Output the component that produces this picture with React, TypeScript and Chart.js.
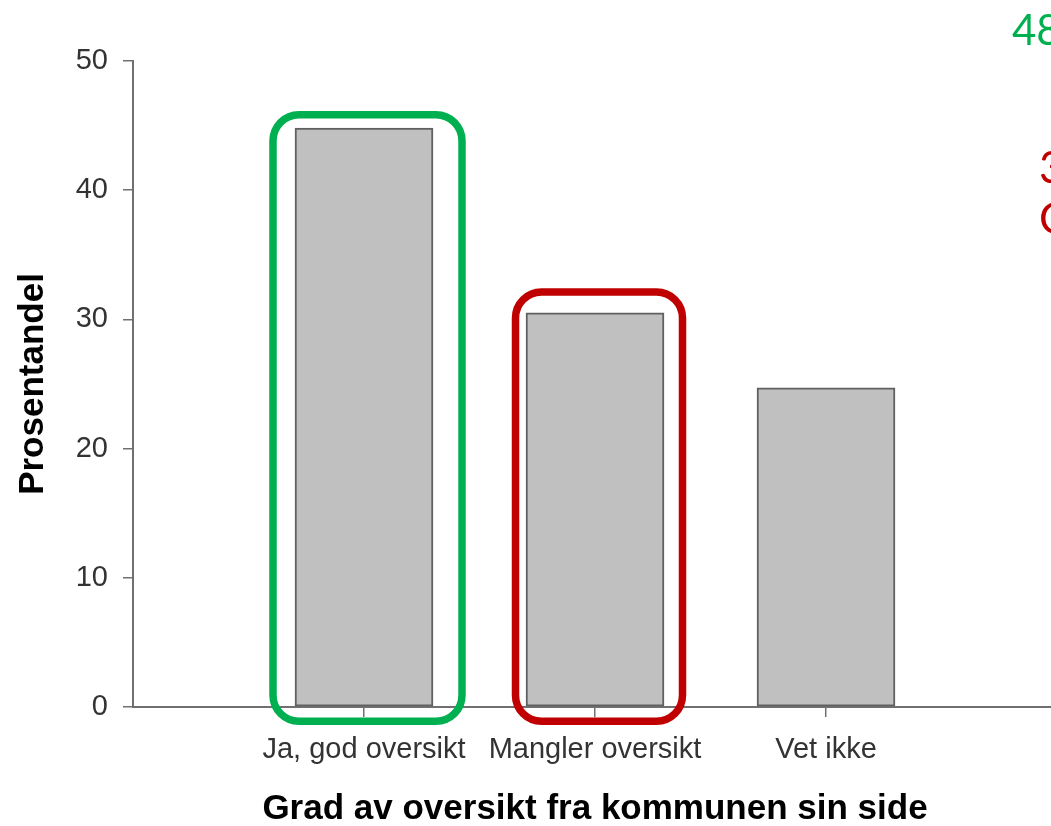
import React, { useEffect, useRef } from 'react';
import { Chart, registerables } from 'chart.js';

Chart.register(...registerables);

// ---- Data ----
const categories = ['Ja, god oversikt', 'Mangler oversikt', 'Vet ikke'];
const categoryPositions = [1, 2, 3];
const values = [44.8, 30.5, 24.7];
const yMin = 0;
const yMax = 50;
const yStep = 10;
const xTitle = 'Grad av oversikt fra kommunen sin side';
const yTitle = 'Prosentandel';

// highlight boxes around bars (index into categories)
const highlights = [
  { index: 0, color: '#00b050', padL: 22, padR: 29, padT: 13.5, padB: 15 },
  { index: 1, color: '#c00000', padL: 10.5, padR: 18.5, padT: 21, padB: 15 },
];

const FONT = '"Liberation Sans", Arial, Helvetica, sans-serif';

const highlightPlugin = {
  id: 'highlightBoxes',
  afterDatasetsDraw(chart: any) {
    const meta = chart.getDatasetMeta(0);
    const ctx = chart.ctx;
    ctx.save();
    highlights.forEach((h) => {
      const bar = meta.data[h.index];
      if (!bar) return;
      const p = bar.getProps(['x', 'y', 'base', 'width'], true);
      const left = p.x - p.width / 2 - h.padL;
      const right = p.x + p.width / 2 + h.padR;
      const top = p.y - h.padT;
      const bottom = p.base + h.padB;
      ctx.beginPath();
      ctx.lineWidth = 7.5;
      ctx.strokeStyle = h.color;
      if (ctx.roundRect) {
        ctx.roundRect(left, top, right - left, bottom - top, 26);
      } else {
        ctx.rect(left, top, right - left, bottom - top);
      }
      ctx.stroke();
    });
    ctx.restore();
  },
};

function BarChart() {
  const ref = useRef<HTMLCanvasElement | null>(null);
  useEffect(() => {
    if (!ref.current) return;
    const chart = new Chart(ref.current, {
      type: 'bar',
      data: {
        datasets: [
          {
            data: categoryPositions.map((x, i) => ({ x, y: values[i] })),
            backgroundColor: '#c0c0c0',
            borderColor: '#606060',
            borderWidth: 2,
            borderSkipped: false,
            barThickness: 138,
          },
        ],
      },
      options: {
        responsive: false,
        animation: false,
        events: [],
        layout: { padding: { top: 61, right: 23, left: 0, bottom: 0 } },
        plugins: {
          legend: { display: false },
          tooltip: { enabled: false },
        },
        scales: {
          x: {
            type: 'linear',
            min: 0,
            max: 4,
            offset: false,
            afterBuildTicks: (scale: any) => {
              scale.ticks = categoryPositions.map((v) => ({ value: v }));
            },
            afterFit: (scale: any) => {
              scale.height = 119;
            },
            ticks: {
              autoSkip: false,
              maxRotation: 0,
              minRotation: 0,
              padding: 16,
              color: '#333333',
              font: { family: FONT, size: 29 },
              callback: (v: any) => {
                const i = categoryPositions.indexOf(Number(v));
                return i >= 0 ? categories[i] : '';
              },
            },
            grid: {
              display: true,
              drawOnChartArea: false,
              drawTicks: true,
              tickLength: 10,
              offset: false,
              color: '#707070',
              lineWidth: 1.5,
            },
            border: { display: true, color: '#707070', width: 2 },
            title: {
              display: true,
              text: xTitle,
              color: '#000000',
              font: { family: FONT, size: 35, weight: 'bold', lineHeight: 1 },
              padding: { top: 0, bottom: -1 },
            },
          },
          y: {
            type: 'linear',
            min: yMin,
            max: yMax,
            afterFit: (scale: any) => {
              scale.width = 133;
            },
            ticks: {
              stepSize: yStep,
              padding: 15,
              color: '#333333',
              font: { family: FONT, size: 29 },
            },
            grid: {
              display: true,
              drawOnChartArea: false,
              drawTicks: true,
              tickLength: 10,
              color: '#707070',
              lineWidth: 1.5,
            },
            border: { display: true, color: '#707070', width: 2 },
            title: {
              display: true,
              text: yTitle,
              color: '#000000',
              font: { family: FONT, size: 35, weight: 'bold', lineHeight: 1.2 },
              padding: { top: 12, bottom: 0 },
            },
          },
        },
      },
      plugins: [highlightPlugin],
    } as any);
    return () => chart.destroy();
  }, []);
  return <canvas ref={ref} width={1080} height={826} style={{ display: 'block', width: 1080, height: 826 }} />;
}

export default function App() {
  useEffect(() => {
    document.body.style.margin = '0';
  }, []);
  const noteFont = 'Lato, "Open Sans", sans-serif';
  return (
    <div style={{ position: 'relative', width: 1051, height: 826, overflow: 'hidden', background: '#ffffff' }}>
      <BarChart />
      <span style={{ position: 'absolute', left: 1012, top: 8, fontFamily: noteFont, fontSize: 42, lineHeight: '42px', color: '#00b050', whiteSpace: 'nowrap' }}>48</span>
      <span style={{ position: 'absolute', left: 1039, top: 144, fontFamily: noteFont, fontSize: 44, lineHeight: '44px', color: '#c00000', whiteSpace: 'nowrap' }}>3</span>
      <span style={{ position: 'absolute', left: 1039, top: 195, fontFamily: noteFont, fontSize: 44, lineHeight: '44px', color: '#c00000', whiteSpace: 'nowrap' }}>O</span>
    </div>
  );
}
